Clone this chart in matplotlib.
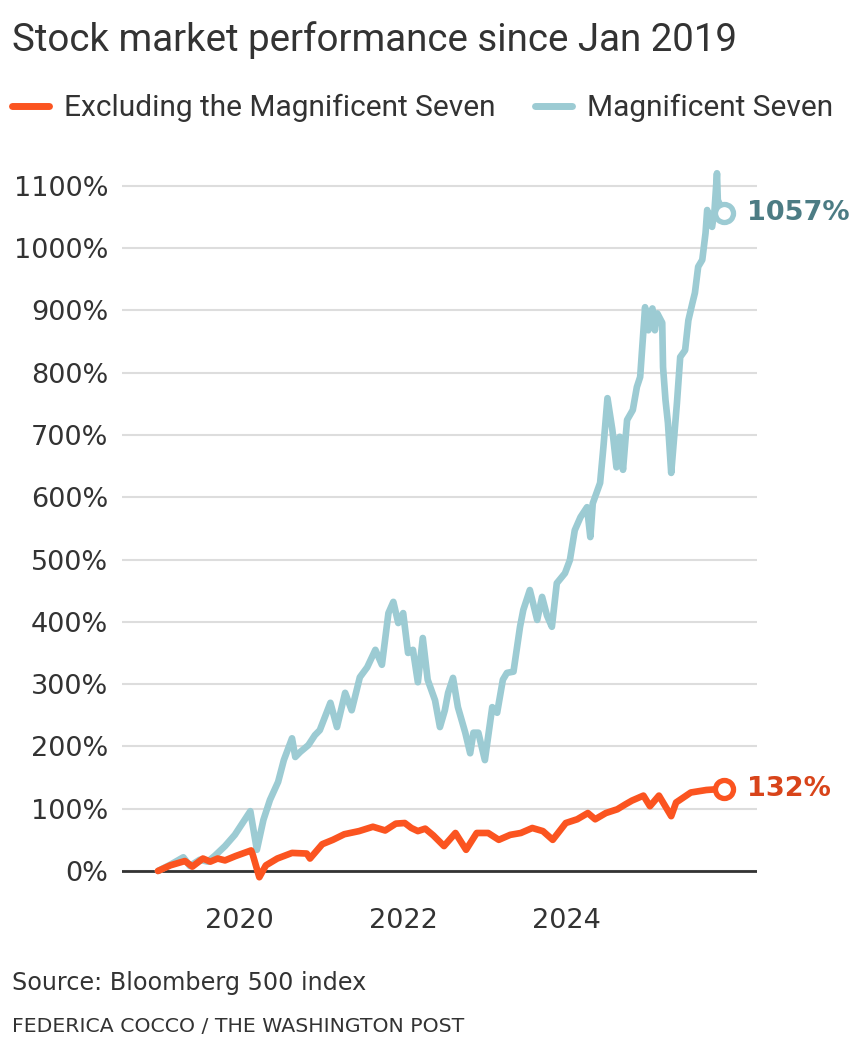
import matplotlib
matplotlib.use("Agg")
import matplotlib.pyplot as plt
from matplotlib.lines import Line2D

plt.rcParams['font.family'] = ['Roboto', 'DejaVu Sans']

# Magnificent Seven (decimal years, % change since Jan 2019)
mag7_t = [2019.00, 2019.15, 2019.31, 2019.39, 2019.51, 2019.61, 2019.70, 2019.82, 2019.94,
          2020.06, 2020.13, 2020.21, 2020.29, 2020.37, 2020.47, 2020.54, 2020.64, 2020.68,
          2020.74, 2020.84, 2020.92, 2020.98, 2021.11, 2021.19, 2021.29, 2021.37, 2021.47,
          2021.56, 2021.66, 2021.74, 2021.82, 2021.88, 2021.94, 2022.00, 2022.06, 2022.12,
          2022.18, 2022.24, 2022.30, 2022.39, 2022.45, 2022.51, 2022.55, 2022.61, 2022.67,
          2022.76, 2022.82, 2022.86, 2022.92, 2023.00, 2023.09, 2023.15, 2023.22, 2023.27,
          2023.35, 2023.43, 2023.47, 2023.55, 2023.64, 2023.70, 2023.76, 2023.82, 2023.88,
          2023.98, 2024.04, 2024.10, 2024.17, 2024.25, 2024.29, 2024.32, 2024.41, 2024.45,
          2024.50, 2024.56, 2024.61, 2024.65, 2024.69, 2024.74, 2024.81, 2024.86, 2024.90,
          2024.96, 2025.00, 2025.05, 2025.08, 2025.11, 2025.17, 2025.18, 2025.21, 2025.24,
          2025.28, 2025.30, 2025.35, 2025.39, 2025.45, 2025.49, 2025.54, 2025.57, 2025.61,
          2025.66, 2025.70, 2025.72, 2025.78, 2025.81, 2025.84, 2025.85, 2025.92]
mag7_v = [0, 10, 22, 8, 18, 15, 25, 40, 58,
          82, 96, 34, 82, 114, 143, 178, 213, 183,
          191, 202, 218, 226, 270, 231, 286, 258, 311,
          327, 355, 331, 414, 432, 398, 414, 350, 355,
          303, 374, 307, 274, 231, 258, 286, 310, 263,
          222, 189, 222, 222, 178, 263, 254, 307, 318,
          320, 392, 419, 451, 403, 440, 410, 392, 462,
          478, 499, 547, 568, 584, 536, 590, 623, 680,
          759, 708, 648, 697, 644, 724, 740, 777, 793,
          905, 868, 903, 868, 895, 880, 809, 756, 719,
          639, 671, 751, 825, 836, 884, 912, 928, 970,
          981, 1024, 1061, 1034, 1061, 1120, 1077, 1057]

# Bloomberg 500 excluding the Magnificent Seven
rest_t = [2019.00, 2019.15, 2019.33, 2019.42, 2019.55, 2019.64, 2019.73, 2019.82, 2019.95,
          2020.14, 2020.16, 2020.24, 2020.32, 2020.46, 2020.64, 2020.82, 2020.86, 2021.01,
          2021.14, 2021.28, 2021.46, 2021.63, 2021.78, 2021.91, 2022.02, 2022.10, 2022.18,
          2022.27, 2022.37, 2022.50, 2022.64, 2022.77, 2022.90, 2023.04, 2023.17, 2023.31,
          2023.44, 2023.58, 2023.71, 2023.83, 2023.99, 2024.13, 2024.26, 2024.35, 2024.48,
          2024.62, 2024.72, 2024.80, 2024.94, 2025.02, 2025.13, 2025.28, 2025.34, 2025.52,
          2025.71, 2025.92]
rest_v = [0, 9, 16, 7, 20, 15, 20, 17, 24,
          33, 26, -10, 9, 20, 29, 28, 20, 43,
          50, 59, 64, 71, 65, 76, 77, 69, 64,
          68, 57, 40, 61, 34, 61, 61, 50, 58,
          61, 69, 64, 50, 77, 83, 93, 83, 93,
          99, 107, 113, 121, 104, 121, 88, 110, 126,
          130, 132]

yticks = [0, 100, 200, 300, 400, 500, 600, 700, 800, 900, 1000, 1100]
xticks = [2020, 2022, 2024]

orange = '#fb5420'
blue = '#9ccbd3'
ink = '#333333'
tick_font = ['DejaVu Sans']

fig = plt.figure(figsize=(8.63, 10.58), dpi=100)
ax = fig.add_axes([0.1414, 0.1591, 0.7358, 0.6889])

ax.plot(mag7_t, mag7_v, color=blue, lw=4.8, solid_joinstyle='round', solid_capstyle='round', zorder=3)
ax.plot(rest_t, rest_v, color=orange, lw=4.8, solid_joinstyle='round', solid_capstyle='round', zorder=4)

ax.plot(mag7_t[-1], mag7_v[-1], 'o', ms=13, mfc='white', mec=blue, mew=3.8, zorder=5)
ax.plot(rest_t[-1], rest_v[-1], 'o', ms=13, mfc='white', mec=orange, mew=3.8, zorder=5)
ax.annotate(f"{mag7_v[-1]}%", (mag7_t[-1], mag7_v[-1]), xytext=(17, 0), textcoords='offset points',
            va='center', ha='left', fontsize=19.5, fontweight='bold', color='#4c7c84', family=tick_font)
ax.annotate(f"{rest_v[-1]}%", (rest_t[-1], rest_v[-1]), xytext=(17, 0), textcoords='offset points',
            va='center', ha='left', fontsize=19.5, fontweight='bold', color='#d8441a', family=tick_font)

ax.set_xlim(2018.56, 2026.33)
ax.set_ylim(-30, 1140)
ax.set_yticks(yticks)
ax.set_yticklabels([f"{v}%" for v in yticks], family=tick_font)
ax.set_xticks(xticks)
ax.set_xticklabels([str(v) for v in xticks], family=tick_font)
ax.tick_params(axis='both', length=0, labelsize=19.5, colors=ink)
ax.tick_params(axis='y', pad=10)
ax.tick_params(axis='x', pad=13)
for s in ax.spines.values():
    s.set_visible(False)
ax.grid(axis='y', color='#dddddd', lw=1.5, zorder=1)
ax.set_axisbelow(True)
ax.axhline(0, color=ink, lw=2, zorder=2)

fig.text(0.014, 0.962, "Stock market performance since Jan 2019", fontsize=27.7, color=ink,
         va='center', ha='left')

handles = [Line2D([], [], color=orange, lw=5, solid_capstyle='round'),
           Line2D([], [], color=blue, lw=5, solid_capstyle='round')]
fig.legend(handles, ["Excluding the Magnificent Seven", "Magnificent Seven"], loc='center left',
           bbox_to_anchor=(0.014, 0.898), ncol=2, frameon=False, fontsize=21.5, handlelength=1.25,
           handletextpad=0.5, columnspacing=1.3, borderpad=0, borderaxespad=0, labelcolor=ink)

fig.text(0.014, 0.071, "Source: Bloomberg 500 index", fontsize=17.2, color=ink, va='center',
         family=tick_font)
fig.text(0.014, 0.030, "FEDERICA COCCO / THE WASHINGTON POST", fontsize=14.7, color=ink, va='center',
         family=tick_font)

fig.savefig('out.png', dpi=100)
